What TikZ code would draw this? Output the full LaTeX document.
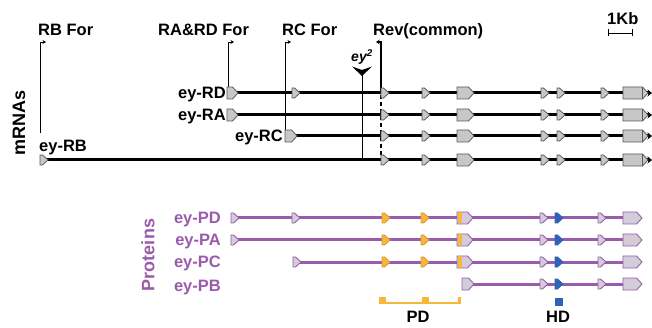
\documentclass[tikz,border=0pt]{standalone}
\usepackage{fontspec}
\setmainfont{Liberation Sans}
\usepackage{tikz}
\usetikzlibrary{arrows.meta}
\definecolor{ptn}{HTML}{9A5BAA}
\definecolor{ptnfill}{HTML}{D3CCD9}
\definecolor{pdorange}{HTML}{F6B73C}
\definecolor{hdblue}{HTML}{2E63B8}

\tikzset{
  pics/tagex/.style={code={\path[pic actions] (0,-5) -- (2.5,-5) -- (8,0) -- (2.5,5) -- (0,5) -- cycle;}},
  pics/boxex/.style={code={\path[pic actions] (0,-6) -- (#1-5.5,-6) -- (#1,0) -- (#1-5.5,6) -- (0,6) -- cycle;}}
}

\begin{document}
\begin{tikzpicture}[x=1pt, y=-1pt,
  lbl/.style={font=\fontsize{16.5}{18}\selectfont\bfseries, inner sep=0pt},
  biglbl/.style={font=\fontsize{18}{20}\selectfont\bfseries, inner sep=0pt, rotate=90},
  primer/.style={line width=0.9pt, -{Stealth[length=3.5pt,width=4pt]}},
  mrna/.style={line width=3pt, -{Stealth[length=4.5pt,width=7pt]}},
  ptnline/.style={line width=3pt, draw=ptn},
  mexon/.style={draw=black!65, fill=black!22, line width=0.8pt},
  pexon/.style={draw=ptn, fill=ptnfill, line width=0.9pt},
  oexon/.style={draw=pdorange!85!black, fill=pdorange, line width=0.8pt},
  bexon/.style={draw=hdblue, fill=hdblue, line width=0.8pt}
]
\useasboundingbox (0,0) rectangle (652,328);

% primers
\node[lbl, anchor=base west] (rbfor) at (38,36) {RB For};
\node[lbl, anchor=base west] (rafor) at (158,36) {RA\&RD For};
\node[lbl, anchor=base west] (rcfor) at (282,36) {RC For};
\node[lbl, anchor=base west] (rev) at (373,36) {Rev(common)};
\node[lbl, anchor=base west] (kb) at (607,25) {1Kb};
\coordinate (kbl) at (608,33);
\coordinate (kbr) at (633,33);
\draw[line width=0.9pt, {Bar[width=7pt]}-{Bar[width=7pt]}] (kbl) -- (kbr);

\coordinate (rbfoot) at (40,133);  \coordinate (rbtip) at (46,42);
\coordinate (rafoot) at (228,87);  \coordinate (ratip) at (234,42);
\coordinate (rcfoot) at (285,130); \coordinate (rctip) at (291,42);
\draw[primer] (rbfoot) |- (rbtip);
\draw[primer] (rafoot) |- (ratip);
\draw[primer] (rcfoot) |- (rctip);
\coordinate (revmid) at (381,88);  \coordinate (revtip) at (376,42);
\coordinate (revfoot) at (381,160);
\draw[line width=1.4pt, -{Stealth[length=3.5pt,width=4.5pt]}] (revmid) |- (revtip);
\draw[line width=1.4pt, dash pattern=on 4pt off 3pt] (revmid) -- (revfoot);

% ey2 insertion
\node[font=\fontsize{14}{15}\selectfont\bfseries\itshape, inner sep=0pt] (eylbl) at (362,57) {ey\textsuperscript{2}};
\coordinate (ey2) at (362,71);
\coordinate (ey2foot) at (362,160);
\draw[line width=1pt] (ey2) -- (ey2foot);
\fill (352,66.5) -- (362,70) -- (372,66.5) -- (362,76) -- cycle;

% mRNAs
\node[biglbl] (mrnas) at (19,123) {mRNAs};
\node[lbl, anchor=base east] (rd) at (226,99) {ey-RD};
\node[lbl, anchor=base east] (ra) at (226,121) {ey-RA};
\node[lbl, anchor=base east] (rc) at (283,142) {ey-RC};
\node[lbl, anchor=base west] (rb) at (39,152) {ey-RB};

\foreach \nm/\y/\xs in {rd/93/228, ra/115/228, rc/136/285, rb/160/40}{
  \coordinate (\nm0) at (\xs,\y);
  \coordinate (\nm1) at (652,\y);
  \draw[mrna] (\nm0) -- (\nm1);
  \foreach \x in {381,422,541,557,601}
    \pic[mexon] at (\x,\y) {tagex};
  \pic[mexon] at (457,\y) {boxex=17};
  \pic[mexon] at (623,\y) {boxex=25};
  \draw[black!65, line width=0.8pt] (642.5,\y-6) -- (642.5,\y+6);
}
\pic[mexon] at (227,93) {boxex=11};
\pic[mexon] at (227,115) {boxex=11};
\pic[mexon] at (285,136) {boxex=12};
\pic[mexon] at (40,160) {tagex};
\pic[mexon] at (292,93) {tagex};

% proteins
\node[biglbl, text=ptn] (proteins) at (148,255) {Proteins};
\node[lbl, text=ptn, anchor=base east] (pd) at (221,224) {ey-PD};
\node[lbl, text=ptn, anchor=base east] (pa) at (221,246) {ey-PA};
\node[lbl, text=ptn, anchor=base east] (pc) at (221,268) {ey-PC};
\node[lbl, text=ptn, anchor=base east] (pb) at (221,291) {ey-PB};

\foreach \nm/\y/\xs in {pd/218/231, pa/240/231, pc/262/293}{
  \coordinate (\nm0) at (\xs,\y);
  \coordinate (\nm1) at (630,\y);
  \draw[ptnline] (\nm0) -- (\nm1);
  \pic[pexon] at (\xs,\y) {tagex};
  \foreach \x in {382,421}
    \pic[oexon] at (\x,\y) {tagex};
  \pic[pexon] at (457,\y) {boxex=16};
  \fill[pdorange] (457.5,\y-5.5) rectangle (461.5,\y+5.5);
  \foreach \x in {540,598}
    \pic[pexon] at (\x,\y) {tagex};
  \pic[bexon] at (555,\y) {tagex};
  \pic[pexon] at (623,\y) {boxex=19};
}
\pic[pexon] at (292,218) {tagex};
\coordinate (pb0) at (462,284);
\coordinate (pb1) at (630,284);
\draw[ptnline] (pb0) -- (pb1);
\pic[pexon] at (462,284) {boxex=12};
\foreach \x in {540,598}
  \pic[pexon] at (\x,284) {tagex};
\pic[bexon] at (555,284) {tagex};
\pic[pexon] at (623,284) {boxex=19};

% domains
\coordinate (pdl) at (380,303);
\coordinate (pdr) at (460,303);
\draw[pdorange, line width=2pt] (pdl) -- (pdr);
\fill[pdorange] (379,297) rectangle (386,304);
\fill[pdorange] (422,297) rectangle (429,304);
\fill[pdorange] (457.5,297) rectangle (460.5,304);
\node[lbl, anchor=base] (pdlbl) at (418,322) {PD};
\fill[hdblue] (555,298) rectangle (563,306);
\node[lbl, anchor=base] (hdlbl) at (558,322) {HD};
\end{tikzpicture}
\end{document}
